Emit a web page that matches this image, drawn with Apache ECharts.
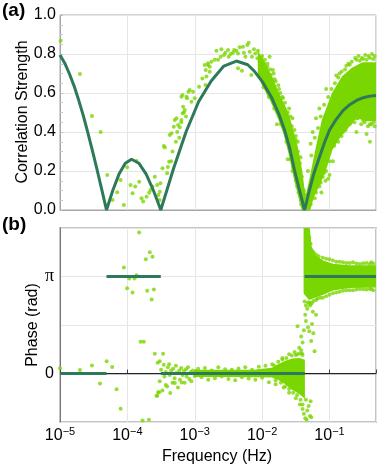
<!DOCTYPE html>
<html><head><meta charset="utf-8">
<script src="https://cdn.jsdelivr.net/npm/echarts@6/dist/echarts.min.js"></script>
<style>html,body{margin:0;padding:0;background:#fff}#c{width:381px;height:470px}</style>
</head><body><div id="c"></div>
<script>
// ---------- DATA (frequency given as log10 exponent) ----------
const freqMinExp = -5;
const freqMaxExp = -0.31;
const corrTicks = [0, 0.2, 0.4, 0.6, 0.8, 1.0];

// model curve, panel (a)
const corrModelExp = [-5.0,-4.931,-4.862,-4.793,-4.724,-4.655,-4.586,-4.517,-4.448,-4.379,-4.31,
  -4.217,-4.124,-4.031,-3.938,-3.83,-3.721,-3.613,-3.504,
  -3.317,-3.130,-2.943,-2.756,-2.569,-2.382,-2.213,-2.111,-2.0,-1.864,-1.75,-1.667,-1.593,-1.52,-1.445,-1.37,
  -1.30,-1.23,-1.15,-1.07,-1.0,-0.9,-0.8,-0.7,-0.6,-0.5,-0.4,-0.31];
const corrModelVal = [0.795,0.754,0.70,0.638,0.565,0.485,0.395,0.302,0.204,0.103,0.0,
  0.10,0.184,0.240,0.26,0.240,0.184,0.10,0.0,
  0.21,0.40,0.555,0.662,0.738,0.764,0.745,0.71,0.66,0.58,0.49,0.41,0.32,0.205,0.10,0.0,
  0.10,0.19,0.27,0.35,0.41,0.465,0.51,0.54,0.562,0.576,0.584,0.587];

// measured points, panel (a)
const corrPtsSparse = [[-4.99,0.868],[-4.704,0.697],[-4.526,0.482],[-4.397,0.40],[-4.299,0.18],[-4.219,0.051],[-4.151,0.091],[-4.10,0.154],[-4.052,0.026],[-4.003,0.219],[-3.953,0.128],[-3.923,0.086],[-3.884,0.12],[-3.864,0.251],[-3.825,0.145],[-3.79,0.06],[-3.766,0.043],[-3.716,0.068],[-3.677,0.089],[-3.657,0.103],[-3.627,0.12],[-3.593,0.171],[-3.558,0.128],[-3.519,0.094],[-3.509,0.137],[-3.54,0.077],[-3.52,0.051],[-3.479,0.214],[-3.459,0.328],[-3.444,0.321],[-3.41,0.188],[-3.38,0.248],[-3.37,0.385],[-3.345,0.393],[-3.311,0.427],[-3.296,0.462],[-3.271,0.47],[-3.247,0.436],[-3.222,0.424],[-3.198,0.462],[-3.183,0.59],[-3.173,0.53],[-3.148,0.513],[-3.114,0.573],[-3.094,0.607],[-3.074,0.615],[-3.049,0.555],[-3.025,0.607],[-3.0,0.573],[-2.936,0.632],[-2.887,0.675],[-2.837,0.718],[-2.803,0.744],[-2.778,0.735],[-3.26,0.40],[-3.23,0.37],[-3.20,0.45],[-3.16,0.50],[-3.13,0.48],[-3.28,0.35],[-3.33,0.30],[-3.35,0.25],[-3.40,0.22],[-3.198,0.581],[-3.18,0.496],[-3.123,0.581]];
const corrPtsLobe = [[-2.852,0.744],[-2.803,0.752],[-2.753,0.76],[-2.704,0.77],[-2.679,0.817],[-2.654,0.77],[-2.615,0.786],[-2.605,0.824],[-2.566,0.795],[-2.546,0.807],[-2.506,0.82],[-2.496,0.786],[-2.467,0.80],[-2.432,0.807],[-2.416,0.82],[-2.382,0.817],[-2.358,0.803],[-2.358,0.727],[-2.333,0.834],[-2.3,0.714],[-2.284,0.837],[-2.27,0.807],[-2.249,0.786],[-2.22,0.846],[-2.2,0.858],[-2.185,0.812],[-2.16,0.692],[-2.151,0.786],[-2.121,0.824],[-2.101,0.803],[-2.071,0.778],[-2.062,0.817],[-2.037,0.76],[-2.012,0.778],[-2.003,0.744],[-1.973,0.752],[-1.953,0.722],[-1.923,0.735],[-1.889,0.786],[-1.874,0.692],[-1.84,0.718],[-1.815,0.67],[-2.827,0.684],[-2.778,0.709],[-2.84,0.641]];
const corrPtsEdge = [[-0.9,0.69],[-0.85,0.70],[-0.75,0.74],[-0.7,0.745],[-0.6,0.77],[-0.55,0.765],[-0.5,0.775],[-0.45,0.77],[-0.4,0.78],[-0.35,0.775],[-1.05,0.62],[-1.15,0.52],[-1.2,0.47],[-1.25,0.40],[-1.28,0.34],[-0.45,0.39],[-0.4,0.44],[-0.35,0.45],[-0.5,0.46],[-0.6,0.47],[-0.7,0.44],[-0.8,0.40],[-0.9,0.36],[-1.0,0.29],[-1.05,0.20],[-1.1,0.17],[-1.15,0.12],[-1.22,0.06],[-1.12,0.09],[-1.6,0.52],[-1.55,0.47],[-1.5,0.38],[-1.47,0.35],[-1.43,0.27],[-1.7,0.58],[-1.75,0.62],[-1.62,0.26],[-1.55,0.20],[-1.48,0.12],[-1.42,0.05],[-1.4,0.03],[-1.78,0.44],[-1.42,0.14],[-1.36,0.08],[-1.02,0.16],[-0.95,0.25]];
const corrPtsEdge2 = [[-2.0,0.79],[-1.96,0.77],[-1.92,0.75],[-1.88,0.72],[-1.83,0.70],[-1.80,0.66],[-1.76,0.64],[-1.73,0.60],[-1.69,0.575],[-1.66,0.55],[-1.62,0.50],[-1.58,0.48],[-1.56,0.43],[-1.52,0.41],[-1.50,0.36],[-1.47,0.30],[-1.44,0.24],[-1.41,0.17],[-1.38,0.10],[-1.98,0.63],[-1.9,0.58],[-1.82,0.52],[-1.72,0.44],[-1.64,0.35],[-1.58,0.26],[-1.54,0.22],[-1.5,0.15],[-1.46,0.09],[-1.42,0.03],[-1.32,0.20],[-1.27,0.28],[-1.22,0.37],[-1.17,0.42],[-1.13,0.48],[-1.08,0.54],[-1.02,0.58],[-0.97,0.62],[-0.92,0.65],[-0.87,0.68],[-0.82,0.71],[-0.77,0.72],[-0.72,0.75],[-0.67,0.76],[-0.62,0.78],[-0.57,0.79],[-0.52,0.78],[-0.47,0.795],[-0.42,0.79],[-0.37,0.80],[-0.33,0.79],[-1.28,0.03],[-1.2,0.09],[-1.13,0.14],[-1.08,0.19],[-1.0,0.25],[-0.93,0.33],[-0.87,0.35],[-0.82,0.38],[-0.76,0.41],[-0.68,0.45],[-0.63,0.45],[-0.58,0.47],[-0.53,0.44],[-0.48,0.45],[-0.43,0.43],[-0.38,0.44],[-0.33,0.43],[-0.4,0.35],[-0.6,0.40],[-1.06,0.15],[-1.0,0.18]];
// dense clouds in panel (a): outline of the region filled with points
const corrCloudLeft = [[-2.05,0.80],[-1.95,0.74],[-1.86,0.68],[-1.79,0.62],[-1.716,0.565],[-1.64,0.51],[-1.593,0.46],[-1.545,0.40],[-1.49,0.33],[-1.45,0.26],[-1.42,0.20],[-1.39,0.12],[-1.36,0.05],[-1.34,0.0],[-1.40,0.0],[-1.45,0.07],[-1.52,0.17],[-1.593,0.29],[-1.667,0.39],[-1.75,0.47],[-1.864,0.56],[-2.0,0.65],[-2.05,0.70]];
const corrCloudRight = [[-1.39,0.0],[-1.30,0.0],[-1.247,0.068],[-1.148,0.137],[-1.05,0.222],[-0.975,0.308],[-0.852,0.376],[-0.728,0.427],[-0.605,0.478],[-0.457,0.46],[-0.31,0.46],[-0.31,0.752],[-0.506,0.752],[-0.654,0.727],[-0.80,0.684],[-0.95,0.598],[-1.1,0.46],[-1.197,0.308],[-1.296,0.137],[-1.36,0.04]];

// model phase, panel (b)
const phaseModelStart = [-5.0, -4.31, -3.504, -1.37];
const phaseModelEnd = [-4.31, -3.504, -1.37, -0.31];
const phaseModelLevel = [0, Math.PI, 0, Math.PI];

// measured phase points, panel (b)
const phasePtsLow = [[-5.0,0.17],[-4.704,0.11],[-4.526,0.26],[-4.407,-0.32],[-4.308,0.40],[-4.225,0.21],[-4.16,-0.51],[-4.10,-1.14],[-4.052,3.43],[-4.003,2.76],[-3.973,3.08],[-3.923,2.62],[-3.893,3.08],[-3.864,3.18],[-3.825,4.57],[-3.726,3.70],[-3.706,2.68],[-3.667,3.93],[-3.64,2.40],[-3.627,3.78],[-3.607,2.72],[-3.804,1.03],[-3.756,1.03],[-3.775,-1.52],[-3.68,-1.50],[-3.593,0.64],[-3.568,-0.72],[-3.543,-0.61],[-3.52,0.40],[-3.558,-0.72],[-3.528,-0.61],[-3.43,-0.375],[-3.363,-0.63],[-3.296,-0.31],[-3.193,-0.29],[-3.47,0.64]];
const phasePtsMid = [[-3.55,0.35],[-3.52,-0.25],[-3.50,0.12],[-3.48,-0.55],[-3.46,0.28],[-3.45,-0.1],[-3.43,0.05],[-3.41,-0.42],[-3.40,0.2],[-3.38,0.3],[-3.37,-0.05],[-3.35,0.1],[-3.33,-0.3],[-3.32,0.15],[-3.30,-0.15],[-3.28,0.25],[-3.27,0.02],[-3.25,-0.45],[-3.23,0.1],[-3.22,-0.2],[-3.20,0.18],[-3.18,-0.05],[-3.16,0.08],[-3.15,-0.3],[-3.13,0.14],[-3.12,-0.1],[-3.10,0.2],[-3.08,-0.18],[-3.06,0.05],[-3.05,-0.25],[-3.03,0.1],[-3.0,-0.08],[-2.95,0.15],[-2.9,-0.12],[-2.85,0.18],[-2.8,-0.2],[-2.75,0.1],[-2.7,-0.15],[-2.65,0.2],[-2.6,-0.1],[-2.55,0.14],[-2.5,-0.18],[-2.45,0.12],[-2.4,-0.22],[-2.35,0.16],[-2.3,-0.12],[-2.25,0.2],[-2.2,-0.16],[-2.15,0.12],[-2.1,-0.2],[-2.05,0.22],[-2.0,-0.14],[-1.95,0.25],[-1.9,-0.28],[-1.85,0.3],[-1.8,-0.35]];
const phasePtsHigh = [[-1.7,0.45],[-1.6,0.62],[-1.52,0.7],[-1.48,0.62],[-1.42,0.75],[-1.6,-0.62],[-1.5,-0.8],[-1.44,-1.0],[-1.40,-1.15],[-1.38,-1.3],[-1.36,-1.45],[-1.34,-1.5],[-1.33,-1.2],[-1.31,-1.05],[-1.29,-1.38],[-1.27,-1.42],[-1.28,-0.9],[-1.35,-0.85],[-1.68,-0.45],[-1.57,0.35],[-1.474,1.53],[-1.45,0.83],[-1.42,1.2],[-1.40,1.0],[-1.37,2.33],[-1.36,1.9],[-1.35,1.7],[-1.33,2.1],[-1.30,1.37],[-1.272,1.05],[-1.247,2.0],[-1.222,0.72],[-1.26,1.6],[-1.29,2.2],[-1.32,1.5],[-1.24,1.3],[-1.2,1.9],[-1.38,1.4],[-1.41,0.65],[-1.3,4.4],[-1.28,4.2],[-1.25,3.95],[-1.2,3.85],[-1.1,3.75],[-1.0,3.7],[-0.9,3.62],[-0.8,3.6],[-0.7,3.58],[-0.6,3.56],[-0.5,3.57],[-0.4,3.55],[-0.35,3.56],[-1.32,2.3],[-1.28,2.25],[-1.24,2.35],[-1.18,2.42],[-1.1,2.45],[-1.0,2.55],[-0.9,2.62],[-0.8,2.68],[-0.7,2.7],[-0.6,2.72],[-0.5,2.73],[-0.4,2.74],[-0.35,2.7]];
const phasePtsEdge = [[-1.34,4.6],[-1.32,4.3],[-1.27,4.0],[-1.23,3.9],[-1.16,3.8],[-1.05,3.72],[-0.95,3.66],[-0.85,3.62],[-0.75,3.58],[-0.65,3.6],[-0.55,3.55],[-0.45,3.58],[-0.38,3.6],[-1.35,2.2],[-1.3,2.3],[-1.26,2.28],[-1.2,2.38],[-1.14,2.45],[-1.05,2.5],[-0.95,2.6],[-0.85,2.65],[-0.75,2.7],[-0.65,2.7],[-0.55,2.74],[-0.45,2.72],[-0.38,2.74],[-1.82,0.25],[-1.76,0.38],[-1.7,0.5],[-1.64,0.5],[-1.56,0.58],[-1.5,0.6],[-1.44,0.65],[-1.4,0.6],[-1.8,-0.22],[-1.72,-0.3],[-1.66,-0.42],[-1.6,-0.5],[-1.54,-0.62],[-1.48,-0.7],[-1.43,-0.85],[-1.4,-1.0]];
const phaseCloudZero = [[-3.0,0.09],[-2.5,0.09],[-2.1,0.1],[-1.85,0.15],[-1.75,0.28],[-1.65,0.38],[-1.55,0.45],[-1.45,0.47],[-1.38,0.42],[-1.38,-0.75],[-1.45,-0.62],[-1.55,-0.5],[-1.65,-0.32],[-1.75,-0.18],[-1.85,-0.1],[-2.1,-0.09],[-2.5,-0.08],[-3.0,-0.08]];
const phaseCloudPi = [[-1.37,4.75],[-1.31,4.75],[-1.28,4.1],[-1.22,3.8],[-1.1,3.63],[-0.95,3.52],[-0.7,3.47],[-0.31,3.47],[-0.31,2.82],[-0.7,2.8],[-0.95,2.72],[-1.1,2.58],[-1.22,2.48],[-1.30,2.42],[-1.37,2.6]];

// ---------- BUILD ----------
const G = '#7ad600', M = '#2d7a5a', FONT = '"Liberation Sans", Arial, sans-serif';
const toXY = a => a.map(p => [Math.pow(10, p[0]), p[1]]);
const xMin = Math.pow(10, freqMinExp), xMax = Math.pow(10, freqMaxExp);
const corrModel = corrModelExp.map((e, i) => [Math.pow(10, e), corrModelVal[i]]);
const phaseModel = [];
phaseModelStart.forEach((s, i) => {
  phaseModel.push([Math.pow(10, s), phaseModelLevel[i]], [Math.pow(10, phaseModelEnd[i]), phaseModelLevel[i]]);
  if (i < phaseModelStart.length - 1) phaseModel.push([Math.pow(10, phaseModelEnd[i]), '-']);
});
function polySeries(poly, gi) {
  const pts = toXY(poly);
  return {
    type: 'custom', xAxisIndex: gi, yAxisIndex: gi, z: 2, clip: true, silent: true,
    data: [pts[0]],
    renderItem: (params, api) => ({
      type: 'polygon',
      shape: { points: pts.map(p => api.coord(p)) },
      style: { fill: G, stroke: G, lineWidth: 2 }
    })
  };
}
function scatter(pts, gi) {
  return { type: 'scatter', xAxisIndex: gi, yAxisIndex: gi, data: toXY(pts), symbolSize: 4,
    itemStyle: { color: G }, z: 3, silent: true };
}
const logLabel = v => {
  const e = Math.log10(v), r = Math.round(e);
  if (Math.abs(e - r) > 1e-6) return '';
  return '{b|10}{s|' + (r < 0 ? '\u2212' : '') + Math.abs(r) + '}';
};
const xCommon = {
  type: 'log', logBase: 10, min: xMin, max: xMax,
  splitLine: { show: true, lineStyle: { color: '#e6e6e6', width: 1 } }
};
const chart = echarts.init(document.getElementById('c'), null, { renderer: 'canvas' });
chart.setOption({
  animation: false,
  backgroundColor: '#fff',
  grid: [
    { left: 60, top: 15, width: 316, height: 195, show: true, borderColor: '#a6a6a6', borderWidth: 1 },
    { left: 60, top: 228, width: 316, height: 194, show: true, borderColor: '#c4c4c4', borderWidth: 2 }
  ],
  xAxis: [
    Object.assign({}, xCommon, { gridIndex: 0, axisLabel: { show: false }, axisTick: { show: false },
      axisLine: { show: true, lineStyle: { color: '#a6a6a6' } } }),
    Object.assign({}, xCommon, { gridIndex: 1,
      axisLine: { show: true, lineStyle: { color: '#c4c4c4', width: 2 } },
      axisTick: { show: true, inside: true, length: 4, lineStyle: { color: '#444' } },
      axisLabel: { formatter: logLabel, margin: 4, color: '#000',
        rich: { b: { fontSize: 16, fontFamily: FONT, color: '#000', verticalAlign: 'bottom' },
                s: { fontSize: 11, fontFamily: FONT, color: '#000', verticalAlign: 'top', padding: [0, 0, 7, 0] } } } })
  ],
  yAxis: [
    { gridIndex: 0, type: 'value', min: corrTicks[0], max: corrTicks[corrTicks.length - 1], interval: 0.2,
      axisLine: { show: true, lineStyle: { color: '#a6a6a6' } },
      axisTick: { show: true, inside: true, length: 3, lineStyle: { color: '#bbb' } },
      minorTick: { show: true, splitNumber: 4, length: 3, lineStyle: { color: '#c8c8c8' } },
      splitLine: { show: true, lineStyle: { color: '#e6e6e6' } },
      axisLabel: { formatter: v => v.toFixed(1), fontSize: 16, fontFamily: FONT, color: '#000', margin: 4 } },
    { gridIndex: 1, type: 'value', min: -Math.PI / 2, max: 1.5 * Math.PI, interval: Math.PI / 2,
      axisLine: { show: true, lineStyle: { color: '#777' } },
      axisTick: { show: false },
      splitLine: { show: true, lineStyle: { color: '#e6e6e6' } },
      axisLabel: { margin: 6, color: '#000',
        formatter: v => Math.abs(v) < 1e-6 ? '{n|0}' : (Math.abs(v - Math.PI) < 1e-6 ? '{p|\u03c0}' : ''),
        rich: { n: { fontSize: 16, fontFamily: FONT, color: '#000' },
                p: { fontSize: 18, fontFamily: '"Liberation Serif", serif', color: '#000' } } } }
  ],
  series: [
    polySeries(corrCloudLeft, 0), polySeries(corrCloudRight, 0),
    scatter(corrPtsSparse, 0), scatter(corrPtsLobe, 0), scatter(corrPtsEdge, 0), scatter(corrPtsEdge2, 0),
    { type: 'line', xAxisIndex: 0, yAxisIndex: 0, data: corrModel, showSymbol: false, symbol: 'none',
      lineStyle: { color: M, width: 3 }, z: 5, silent: true },
    polySeries(phaseCloudZero, 1), polySeries(phaseCloudPi, 1),
    scatter(phasePtsLow, 1), scatter(phasePtsMid, 1), scatter(phasePtsHigh, 1), scatter(phasePtsEdge, 1),
    { type: 'line', xAxisIndex: 1, yAxisIndex: 1, data: phaseModel, showSymbol: false, symbol: 'none',
      connectNulls: false, lineStyle: { color: M, width: 3 }, z: 5, silent: true,
      markLine: { silent: true, symbol: 'none', label: { show: false }, animation: false,
        lineStyle: { color: '#222', width: 1, type: 'solid' }, data: [{ yAxis: 0 }] } }
  ],
  graphic: [
    { type: 'text', left: 2, top: 1, style: { text: '(a)', font: 'bold 19px ' + FONT, fill: '#000' } },
    { type: 'text', left: 2, top: 215, style: { text: '(b)', font: 'bold 19px ' + FONT, fill: '#000' } },
    { type: 'text', x: 23, y: 112, rotation: Math.PI / 2,
      style: { text: 'Correlation Strength', font: '16px ' + FONT, fill: '#000', align: 'center', verticalAlign: 'middle', textAlign: 'center', textVerticalAlign: 'middle' } },
    { type: 'text', x: 33, y: 325, rotation: Math.PI / 2,
      style: { text: 'Phase (rad)', font: '16px ' + FONT, fill: '#000', align: 'center', verticalAlign: 'middle', textAlign: 'center', textVerticalAlign: 'middle' } },
    { type: 'text', x: 217, y: 457,
      style: { text: 'Frequency (Hz)', font: '16px ' + FONT, fill: '#000', align: 'center', verticalAlign: 'middle', textAlign: 'center', textVerticalAlign: 'middle' } }
  ]
});
</script></body></html>
